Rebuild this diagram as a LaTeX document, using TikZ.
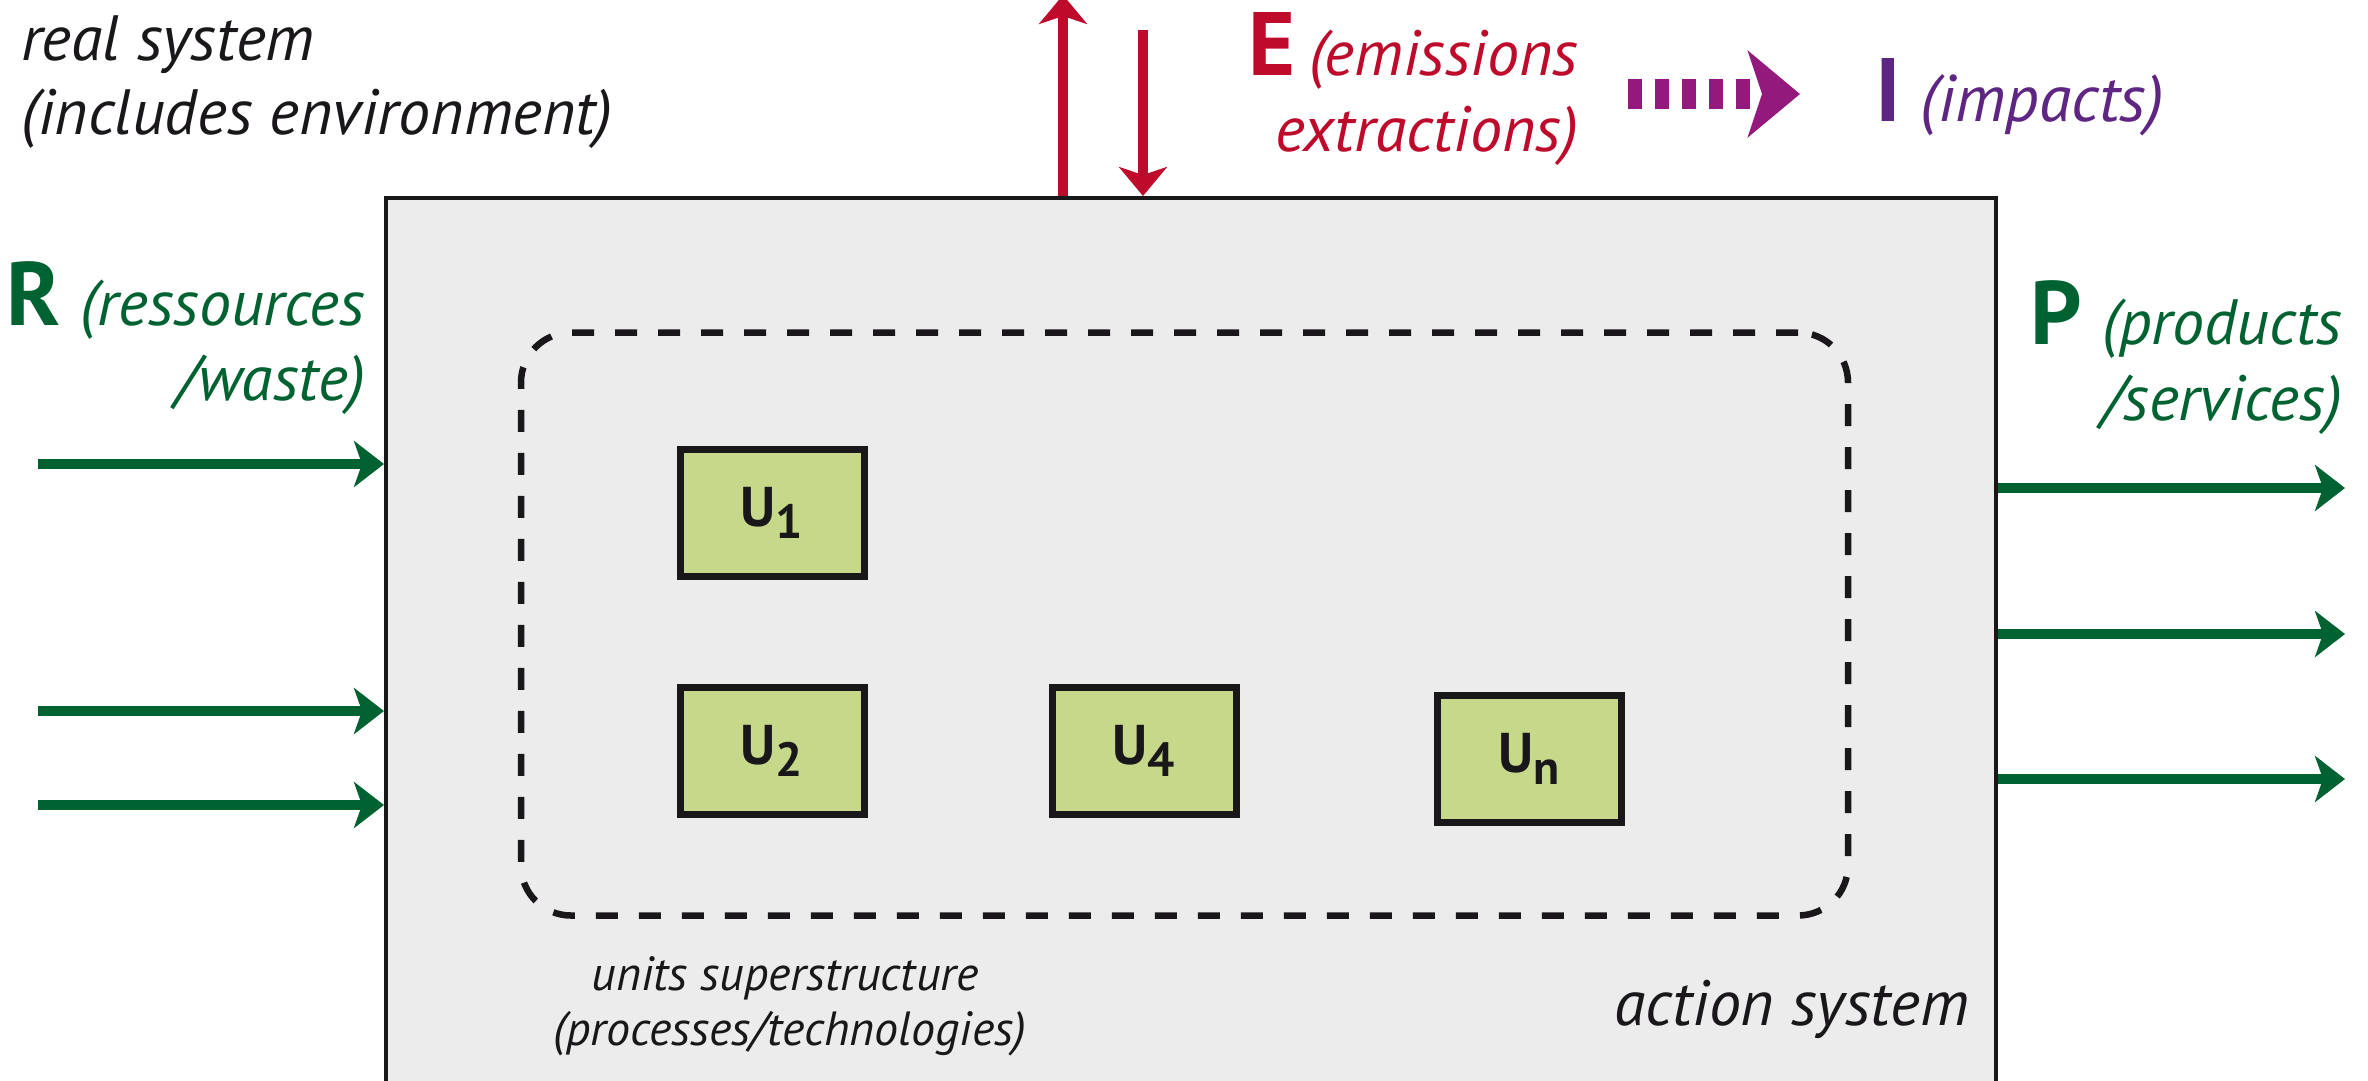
\documentclass[tikz,border=0pt]{standalone}
\usepackage{fontspec}
\setmainfont{PT Sans}
\usetikzlibrary{arrows.meta}

\definecolor{boxgray}{HTML}{ECECEC}
\definecolor{ink}{HTML}{1A171B}
\definecolor{unitgreen}{HTML}{C6D98A}
\definecolor{flowgreen}{HTML}{006230}
\definecolor{emred}{HTML}{BE0B2B}
\definecolor{impmag}{HTML}{93197C}
\definecolor{imppurple}{HTML}{5F2582}

\newcommand{\fsz}[1]{\fontsize{#1}{#1}\selectfont}
\newcommand{\unitlabel}[1]{{\bfseries\fsz{56}U\raisebox{-12pt}{\fsz{48}#1}}}

\begin{document}
\begin{tikzpicture}[x=1pt,y=-1pt,
  txt/.style={inner sep=0pt, outer sep=0pt},
  unitbox/.style={draw=ink, fill=unitgreen, line width=7pt, minimum width=184pt,
    minimum height=127pt, inner sep=0pt, text=ink},
  garrow/.style={flowgreen, line width=10pt, -{Stealth[length=30pt,width=46pt,inset=8pt]}},
  rarrow/.style={emred, line width=10pt, -{Stealth[length=29pt,width=48pt,inset=8pt]}},
  iarrow/.style={impmag, line width=30pt, dash pattern=on 14pt off 13pt,
    -{Stealth[length=52pt,width=86pt,inset=14pt]}}
]
\useasboundingbox (0,0) rectangle (2368,1080);
\clip (0,0) rectangle (2368,1080);
\fill[white] (0,0) rectangle (2368,1080);

% action system
\node[draw=ink, fill=boxgray, line width=4pt, minimum width=1610pt, minimum height=922pt,
  inner sep=0pt] (act) at (1191,659) {};

% units superstructure
\node[draw=ink, line width=6.5pt, dash pattern=on 22pt off 21pt, rounded corners=50pt,
  minimum width=1327pt, minimum height=583pt, inner sep=0pt] (sup) at (1184.5,624) {};

% units
\node[unitbox] (u1) at (772,513)   {\unitlabel{1}};
\node[unitbox] (u2) at (772,750.5) {\unitlabel{2}};
\node[unitbox] (u4) at (1144,750.5){\unitlabel{4}};
\node[unitbox] (un) at (1529,758.5){\unitlabel{n}};

% labels
\node[txt, anchor=base west, text=ink] (real1) at (21,60) {\itshape\fsz{64}real system};
\node[txt, anchor=base west, text=ink] (real2) at (21,134) {\itshape\fsz{64}(includes environment)};

\node[txt, anchor=base east, text=flowgreen] (rlab1) at (365,325)
  {{\bfseries\fsz{90}R}\hspace{20pt}{\itshape\fsz{64}(ressources}};
\node[txt, anchor=base east, text=flowgreen] (rlab2) at (365,400) {\itshape\fsz{64}/waste)};

\node[txt, anchor=base east, text=flowgreen] (plab1) at (2342,344)
  {{\bfseries\fsz{90}P}\hspace{20pt}{\itshape\fsz{64}(products}};
\node[txt, anchor=base east, text=flowgreen] (plab2) at (2342,420) {\itshape\fsz{64}/services)};

\node[txt, anchor=base east, text=emred] (elab1) at (1578,75)
  {{\bfseries\fsz{90}E}\hspace{14pt}{\itshape\fsz{64}(emissions}};
\node[txt, anchor=base east, text=emred] (elab2) at (1578,151) {\itshape\fsz{64}extractions)};

\node[txt, anchor=base west, text=imppurple] (ilab) at (1875,121)
  {{\bfseries\fsz{90}I}\hspace{20pt}{\itshape\fsz{66}(impacts)}};

\node[txt, anchor=base, text=ink] (sup1) at (785,990) {\itshape\fsz{48}units superstructure};
\node[txt, anchor=base, text=ink] (sup2) at (790,1045) {\itshape\fsz{48}(processes/technologies)};

\node[txt, anchor=base east, text=ink] (actlab) at (1969,1025) {\itshape\fsz{64}action system};

% resource inflows
\coordinate (rin1) at (38,464);
\coordinate (rin2) at (38,711);
\coordinate (rin3) at (38,805);
\draw[garrow] (rin1) -- (rin1 -| act.west);
\draw[garrow] (rin2) -- (rin2 -| act.west);
\draw[garrow] (rin3) -- (rin3 -| act.west);

% product outflows
\coordinate (pout1) at (2345,488);
\coordinate (pout2) at (2345,634);
\coordinate (pout3) at (2345,779);
\draw[garrow] (pout1 -| act.east) -- (pout1);
\draw[garrow] (pout2 -| act.east) -- (pout2);
\draw[garrow] (pout3 -| act.east) -- (pout3);

% emissions / extractions
\coordinate (eout) at (1063,-5);
\coordinate (ein) at (1143,30);
\draw[rarrow] (eout |- act.north) -- (eout);
\draw[rarrow] (ein) -- (ein |- act.north);

% emissions lead to impacts
\coordinate (imp0) at (1628,94);
\coordinate (imp1) at (1800,94);
\draw[iarrow] (imp0) -- (imp1);
\end{tikzpicture}
\end{document}
